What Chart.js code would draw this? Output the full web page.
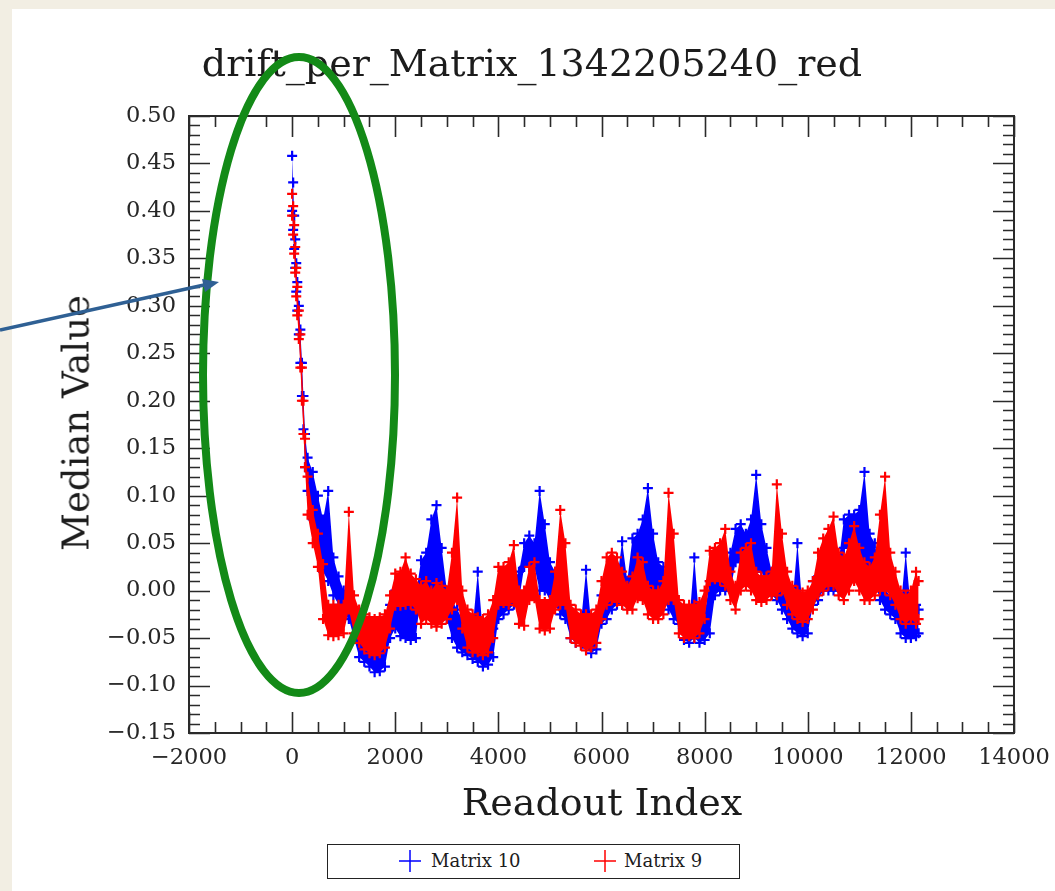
<!DOCTYPE html>
<html>
<head>
<meta charset="utf-8">
<script src="https://cdn.jsdelivr.net/npm/chart.js@4.4.0/dist/chart.umd.min.js"></script>
<style>
  html, body { margin: 0; padding: 0; }
  body { width: 1055px; height: 891px; background: #f2eee3; position: relative; overflow: hidden; font-family: 'DejaVu Serif', serif; color: #1c1c1c; }
  #panel { position: absolute; left: 12px; top: 9px; right: 0; bottom: 0; background: #fff; }
  #chart { position: absolute; left: 0; top: 0; }
  .txt { position: absolute; white-space: nowrap; line-height: 1; }
  #title { left: 532px; top: 44px; font-size: 38px; transform: translateX(-50%); }
  #xTitle { left: 602px; top: 783px; font-size: 38px; transform: translateX(-50%); }
  #yTitle { left: 76px; top: 423px; font-size: 37px; transform: translate(-50%, -50%) rotate(-90deg); }
  #legend { position: absolute; left: 327px; top: 844px; width: 411px; height: 33px; border: 1.5px solid #222; background: #fff; }
  #legend svg { position: absolute; top: 5px; }
  #legend .lbl { position: absolute; top: 7px; font-size: 18px; line-height: 1; white-space: nowrap; }
  #marks { position: absolute; left: 0; top: 0; pointer-events: none; }
</style>
</head>
<body>
<div id="panel"></div>
<canvas id="chart" width="1055" height="891"></canvas>
<div class="txt" id="title">drift_per_Matrix_1342205240_red</div>
<div class="txt" id="xTitle">Readout Index</div>
<div class="txt" id="yTitle">Median Value</div>
<div id="legend">
  <svg width="22" height="22" style="left:71px"><path d="M0 11H22M11 0V22" stroke="#0000ff" stroke-width="1.5"/></svg>
  <span class="lbl" style="left:103px">Matrix 10</span>
  <svg width="22" height="22" style="left:266px"><path d="M0 11H22M11 0V22" stroke="#ff0000" stroke-width="1.5"/></svg>
  <span class="lbl" style="left:296px">Matrix 9</span>
</div>
<svg id="marks" width="1055" height="891">
  <ellipse cx="299" cy="375" rx="96" ry="318" fill="none" stroke="#138a17" stroke-width="8"/>
  <line x1="0" y1="330" x2="204" y2="285" stroke="#2f6094" stroke-width="3.5"/>
  <polygon points="219,282 205,292 202,279" fill="#2f6094"/>
</svg>
<script>
const readoutIdx = [
  0, 20, 40, 60, 80, 100, 130, 160, 190, 220, 250,
  300, 400, 500, 600, 700, 800, 900, 1000, 1100, 1200,
  1300, 1400, 1500, 1600, 1700, 1800, 1900, 2000, 2100, 2200,
  2300, 2400, 2500, 2600, 2700, 2800, 2900, 3000, 3100, 3200,
  3300, 3400, 3500, 3600, 3700, 3800, 3900, 4000, 4100, 4200,
  4300, 4400, 4500, 4600, 4700, 4800, 4900, 5000, 5100, 5200,
  5300, 5400, 5500, 5600, 5700, 5800, 5900, 6000, 6100, 6200,
  6300, 6400, 6500, 6600, 6700, 6800, 6900, 7000, 7100, 7200,
  7300, 7400, 7500, 7600, 7700, 7800, 7900, 8000, 8100, 8200,
  8300, 8400, 8500, 8600, 8700, 8800, 8900, 9000, 9100, 9200,
  9300, 9400, 9500, 9600, 9700, 9800, 9900, 10000, 10100, 10200,
  10300, 10400, 10500, 10600, 10700, 10800, 10900, 11000, 11100, 11200,
  11300, 11400, 11500, 11600, 11700, 11800, 11900, 12000, 12100, 12150
];

// Matrix 10 (blue) lower / upper edge of the point cloud
const m10Lo = [
  0.40, 0.38, 0.36, 0.34, 0.315, 0.295, 0.27, 0.24, 0.205, 0.17, 0.13,
  0.105, 0.075, 0.05, 0.02, 0.01, -0.005, -0.015, -0.025, -0.03, -0.05,
  -0.07, -0.075, -0.08, -0.086, -0.085, -0.08, -0.05, -0.04, -0.048, -0.05,
  -0.052, -0.05, 0.0, -0.005, 0.0, 0.0, -0.01, -0.03, -0.05, -0.06,
  -0.065, -0.068, -0.072, -0.075, -0.08, -0.078, -0.07, -0.03, -0.025, -0.02,
  -0.015, -0.01, 0.025, 0.025, 0.025, 0.0, 0.0, -0.01, -0.015, -0.025,
  -0.03, -0.05, -0.055, -0.055, -0.06, -0.066, -0.062, -0.035, -0.03, -0.02,
  -0.015, -0.015, -0.015, 0.01, 0.01, 0.01, 0.0, 0.0, -0.01, -0.01,
  -0.02, -0.03, -0.035, -0.052, -0.055, -0.05, -0.055, -0.052, -0.045, -0.005,
  0.0, 0.0, 0.0, 0.03, 0.03, 0.025, 0.03, 0.02, 0.02, 0.01,
  -0.005, -0.01, -0.02, -0.03, -0.04, -0.045, -0.048, -0.045, -0.015, -0.01,
  0.0, 0.0, 0.0, 0.0, 0.045, 0.045, 0.04, 0.03, 0.02, 0.015,
  0.01, -0.01, -0.02, -0.025, -0.03, -0.045, -0.05, -0.05, -0.048, -0.045
];
const m10Hi = [
  0.458, 0.43, 0.395, 0.37, 0.345, 0.325, 0.30, 0.275, 0.24, 0.205, 0.165,
  0.14, 0.125, 0.10, 0.075, 0.105, 0.035, 0.015, 0.0, -0.005, -0.02,
  -0.04, -0.045, -0.05, -0.055, -0.055, -0.05, -0.015, 0.0, -0.005, -0.005,
  -0.01, -0.005, 0.032, 0.04, 0.075, 0.09, 0.045, 0.0, -0.01, -0.02,
  -0.03, -0.035, -0.04, 0.02, -0.045, -0.045, -0.04, -0.01, -0.005, 0.0,
  0.012, 0.02, 0.05, 0.058, 0.05, 0.105, 0.07, 0.03, 0.02, -0.01,
  -0.015, -0.03, -0.035, -0.035, 0.022, -0.035, -0.03, -0.005, 0.0, 0.005,
  0.01, 0.052, 0.01, 0.055, 0.06, 0.075, 0.108, 0.06, 0.03, 0.025,
  -0.005, -0.01, -0.015, -0.032, -0.035, 0.035, -0.035, -0.025, 0.01, 0.03,
  0.03, 0.025, 0.04, 0.065, 0.07, 0.06, 0.075, 0.122, 0.07, 0.045,
  0.02, 0.005, 0.0, -0.01, -0.015, 0.05, -0.02, -0.015, 0.01, 0.015,
  0.02, 0.025, 0.02, 0.03, 0.075, 0.08, 0.08, 0.085, 0.125, 0.06,
  0.05, 0.02, 0.0, -0.005, -0.01, -0.02, 0.04, -0.02, -0.015, -0.02
];

// Matrix 9 (red) lower / upper edge of the point cloud
const m9Lo = [
  0.395, 0.375, 0.355, 0.335, 0.31, 0.29, 0.265, 0.235, 0.2, 0.165, 0.13,
  0.08, 0.05, 0.025, -0.03, -0.047, -0.048, -0.047, -0.045, -0.02, -0.045,
  -0.055, -0.062, -0.066, -0.068, -0.066, -0.06, -0.04, -0.016, -0.016, -0.015,
  -0.015, -0.02, -0.035, -0.03, -0.035, -0.038, -0.035, -0.03, -0.02, -0.01,
  -0.04, -0.06, -0.065, -0.065, -0.068, -0.065, -0.05, -0.015, -0.013, -0.015,
  -0.012, -0.035, -0.037, -0.01, -0.008, -0.04, -0.042, -0.04, -0.02, -0.015,
  -0.015, -0.05, -0.055, -0.058, -0.063, -0.06, -0.055, -0.03, -0.015, -0.01,
  -0.012, -0.015, -0.02, -0.02, -0.008, -0.01, -0.025, -0.03, -0.03, -0.025,
  -0.01, -0.01, -0.045, -0.05, -0.048, -0.05, -0.045, -0.03, 0.01, 0.012,
  0.01, 0.005, -0.01, -0.02, 0.0, 0.005, 0.0, -0.01, -0.012, -0.01,
  -0.005, -0.005, 0.0, -0.015, -0.025, -0.03, -0.033, -0.03, -0.02, -0.005,
  0.0, 0.005, 0.005, -0.005, -0.01, 0.0, 0.01, 0.0, -0.01, -0.01,
  -0.005, 0.0, 0.0, -0.005, -0.015, -0.03, -0.035, -0.03, -0.035, -0.03
];
const m9Hi = [
  0.418, 0.405, 0.385, 0.362, 0.34, 0.32, 0.295, 0.27, 0.235, 0.2, 0.16,
  0.12, 0.085, 0.06, 0.028, -0.015, -0.015, -0.015, -0.015, 0.083, -0.005,
  -0.02, -0.025, -0.028, -0.03, -0.028, -0.025, -0.005, 0.018, 0.02, 0.035,
  0.018, 0.012, 0.005, 0.01, 0.0, 0.008, 0.005, 0.0, 0.04, 0.098,
  0.0, -0.02, -0.025, -0.028, -0.03, -0.025, -0.01, 0.025, 0.025, 0.03,
  0.048, 0.0, 0.0, 0.025, 0.03, -0.01, -0.012, -0.01, 0.02, 0.085,
  0.05, -0.015, -0.02, -0.025, -0.025, -0.025, -0.02, 0.01, 0.035, 0.04,
  0.035, 0.02, 0.005, 0.015, 0.035, 0.03, 0.005, 0.0, 0.0, 0.01,
  0.103, 0.06, -0.01, -0.015, -0.015, -0.015, -0.012, 0.0, 0.042, 0.045,
  0.05, 0.065, 0.02, 0.005, 0.04, 0.045, 0.05, 0.02, 0.015, 0.015,
  0.02, 0.112, 0.06, 0.02, 0.005, 0.0, -0.002, 0.0, 0.01, 0.04,
  0.055, 0.065, 0.078, 0.04, 0.035, 0.05, 0.068, 0.045, 0.03, 0.025,
  0.035, 0.08, 0.12, 0.04, 0.02, 0.0, -0.005, 0.0, 0.02, 0.01
];

const xTicks = [-2000, 0, 2000, 4000, 6000, 8000, 10000, 12000, 14000];
const xTickLabels = ['\u22122000', '0', '2000', '4000', '6000', '8000', '10000', '12000', '14000'];
const yTicks = [-0.15, -0.10, -0.05, 0.00, 0.05, 0.10, 0.15, 0.20, 0.25, 0.30, 0.35, 0.40, 0.45, 0.50];
const yTickLabels = ['\u22120.15', '\u22120.10', '\u22120.05', '0.00', '0.05', '0.10', '0.15',
  '0.20', '0.25', '0.30', '0.35', '0.40', '0.45', '0.50'];

const BLUE = '#0000ff';
const RED = '#ff0000';
const tickFont = { family: "'DejaVu Serif', serif", size: 22.5 };

const toPoints = (vals) => readoutIdx.map((x, i) => ({ x: x, y: vals[i] }));

const band = (label, vals, color, order, fill) => ({
  label: label,
  data: toPoints(vals),
  showLine: false,
  fill: fill,
  order: order,
  backgroundColor: color,
  borderColor: color,
  pointStyle: 'cross',
  pointRadius: 5,
  pointHoverRadius: 5,
  pointBorderWidth: 2.2,
  pointBorderColor: color,
  pointHitRadius: 0,
});

// inward major + minor ticks on all four sides, plus the frame
const frameTicks = {
  id: 'frameTicks',
  afterDraw(chart) {
    const { ctx, chartArea: a, scales: { x, y } } = chart;
    ctx.save();
    ctx.strokeStyle = '#2a2a2a';
    ctx.lineWidth = 1.6;
    ctx.beginPath();
    for (let k = 0; k <= 32; k++) {
      const v = -2000 + k * 500;
      const px = Math.round(x.getPixelForValue(v)) + 0.5;
      const len = k % 4 === 0 ? 21 : 11;
      ctx.moveTo(px, a.bottom); ctx.lineTo(px, a.bottom - len);
      ctx.moveTo(px, a.top); ctx.lineTo(px, a.top + len);
    }
    for (let k = 0; k <= 65; k++) {
      const v = -0.15 + k * 0.01;
      const py = Math.round(y.getPixelForValue(v)) + 0.5;
      const len = k % 5 === 0 ? 21 : 11;
      ctx.moveTo(a.left, py); ctx.lineTo(a.left + len, py);
      ctx.moveTo(a.right, py); ctx.lineTo(a.right - len, py);
    }
    ctx.stroke();
    ctx.lineWidth = 2;
    ctx.strokeRect(a.left, a.top, a.right - a.left, a.bottom - a.top);
    ctx.restore();
  }
};

new Chart(document.getElementById('chart'), {
  type: 'line',
  data: {
    datasets: [
      band('Matrix 10', m10Lo, BLUE, 3, '+1'),
      band('Matrix 10 upper', m10Hi, BLUE, 2, false),
      band('Matrix 9', m9Lo, RED, 1, '+1'),
      band('Matrix 9 upper', m9Hi, RED, 0, false),
    ]
  },
  options: {
    responsive: false,
    animation: false,
    events: [],
    layout: { padding: { left: 19, top: 116, right: 41, bottom: 108 } },
    elements: { line: { tension: 0 } },
    plugins: {
      legend: { display: false },
      tooltip: { enabled: false },
      filler: { propagate: false, drawTime: 'beforeDatasetDraw' }
    },
    scales: {
      x: {
        type: 'linear',
        min: -2000,
        max: 14000,
        grid: { display: false, drawTicks: false },
        border: { display: false },
        afterBuildTicks: (s) => { s.ticks = xTicks.map(v => ({ value: v })); },
        afterFit: (s) => { s.height = 50; s.paddingLeft = 0; s.paddingRight = 0; },
        ticks: {
          font: tickFont, color: '#262626', padding: 12,
          autoSkip: false, maxRotation: 0,
          callback: (v, i) => xTickLabels[i]
        }
      },
      y: {
        type: 'linear',
        min: -0.15,
        max: 0.5,
        grid: { display: false, drawTicks: false },
        border: { display: false },
        afterBuildTicks: (s) => { s.ticks = yTicks.map(v => ({ value: v })); },
        afterFit: (s) => { s.width = 170; s.paddingTop = 0; s.paddingBottom = 0; },
        ticks: {
          font: tickFont, color: '#262626', padding: 13,
          autoSkip: false,
          callback: (v, i) => yTickLabels[i]
        }
      }
    }
  },
  plugins: [frameTicks]
});
</script>
</body>
</html>
